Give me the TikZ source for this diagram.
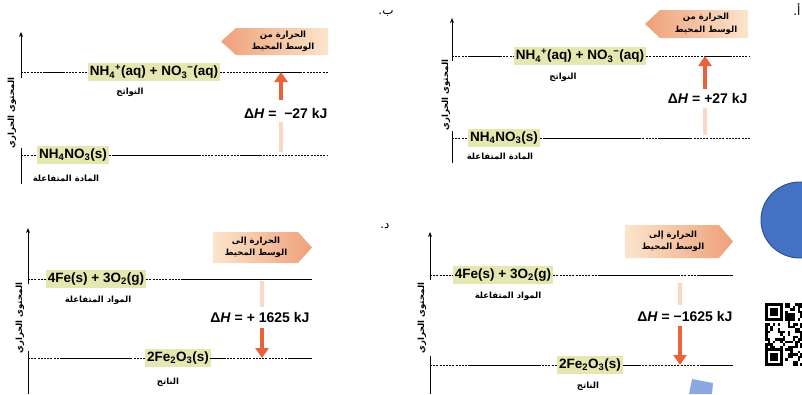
\documentclass[tikz,border=0pt]{standalone}
\usepackage{fontspec}
\setmainfont{Liberation Sans}
\newfontfamily\arabicfont[Script=Arabic]{DejaVu Sans}
\TeXXeTstate=1
\usetikzlibrary{arrows.meta}
\definecolor{boxfill}{HTML}{E4E8B0}
\definecolor{arrowred}{HTML}{E8623C}
\definecolor{arrowfade}{HTML}{F9D8C6}
\definecolor{heatdark}{HTML}{EFA07A}
\definecolor{heatlight}{HTML}{FBE5CC}
\definecolor{blueshape}{HTML}{4472C4}
\definecolor{blueedge}{HTML}{2F528F}
\definecolor{lightblue}{HTML}{8AA8E2}
\newcommand{\ar}[1]{{\arabicfont\bfseries\beginR #1\endR}}
\newcommand{\sbs}[1]{\textsubscript{#1}}
\newcommand{\sps}[1]{\textsuperscript{#1}}
\tikzset{
  formula/.style={fill=boxfill, font=\fontsize{13.5}{14}\selectfont\bfseries, inner xsep=2pt, inner ysep=2.5pt},
  arlabel/.style={font=\fontsize{8.5}{9}\selectfont},
  ylab/.style={rotate=90, font=\fontsize{8.5}{9}\selectfont},
  heattext/.style={align=center, font=\fontsize{8.5}{12.5}\selectfont},
  dhtext/.style={font=\fontsize{14}{14}\selectfont\bfseries},
  level/.style={draw=black, line width=0.75pt, dash pattern=on 2pt off 1.2pt},
  levelsolid/.style={draw=black, line width=0.85pt},
  axisline/.style={draw=black, line width=1pt},
  axisarrow/.style={axisline, -{Stealth[length=5pt,width=4pt]}},
  hotarrow/.style={draw=arrowred, line width=4.5pt, -{Triangle[width=13pt,length=10pt]}},
  fadeshaft/.style={draw=arrowfade, line width=4pt},
  panelmark/.style={font=\arabicfont\fontsize{12}{12}\selectfont},
}
\begin{document}
\begin{tikzpicture}[x=1pt,y=-1pt]
\useasboundingbox (0,0) rectangle (802,394);
\fill[white] (0,0) rectangle (802,394);

% ================= Panel top-left (ب) =================
\coordinate (a-axtop) at (21,32);
\coordinate (a-axmid) at (21,78);
\coordinate (a-axlo1) at (21,148);
\coordinate (a-axlo2) at (21,184);
\draw[axisarrow] (a-axmid) -- (a-axtop);
\draw[axisline] (a-axlo1) -- (a-axlo2);
\node[ylab] (a-ylab) at (12,113) {\ar{المحتوى الحراري}};
\coordinate (a-t1) at (21,72); \coordinate (a-t2) at (328,72);
\coordinate (a-b1) at (21,155); \coordinate (a-b2) at (328,155);
\node[formula] (a-prod) at (154,72) {NH\sbs{4}\sps{+}(aq) + NO\sbs{3}\sps{−}(aq)};
\node[formula] (a-reac) at (73,155) {NH\sbs{4}NO\sbs{3}(s)};
\draw[level] (a-t1) -- (a-prod.west);
\draw[level] (a-prod.east) -- (a-t2);
\draw[level] (a-b1) -- (a-reac.west);
\draw[level] (a-reac.east) -- (a-b2);
\draw[levelsolid] (45,72) -- (65,72);
\draw[levelsolid] (268,72) -- (300,72);
\draw[levelsolid] (112,155) -- (200,155);
\draw[levelsolid] (240,155) -- (262,155);
\node[arlabel] (a-prodlab) at (130,92) {\ar{النواتج}};
\node[arlabel] (a-reaclab) at (66,178) {\ar{المادة المتفاعلة}};
\shade[left color=heatdark, right color=heatlight] (221,41.5) -- (236,28) -- (328,28) -- (328,55) -- (236,55) -- cycle;
\node[heattext] (a-heat) at (283,41.5) {\ar{الحرارة من}\\\ar{الوسط المحيط}};
\coordinate (a-f1) at (281,152); \coordinate (a-f2) at (281,122);
\coordinate (a-h1) at (281,100); \coordinate (a-h2) at (281,72);
\draw[fadeshaft] (a-f1) -- (a-f2);
\draw[hotarrow] (a-h1) -- (a-h2);
\node[dhtext, anchor=east] (a-dh) at (331,113) {Δ\textit{H} =\ \ −27 kJ};
\node[panelmark] (a-mark) at (386,14) {ب.};

% ================= Panel top-right (أ) =================
\coordinate (b-axtop) at (452,18);
\coordinate (b-axmid) at (452,61);
\coordinate (b-axlo1) at (452,131);
\coordinate (b-axlo2) at (452,163);
\draw[axisarrow] (b-axmid) -- (b-axtop);
\draw[axisline] (b-axlo1) -- (b-axlo2);
\node[ylab] (b-ylab) at (446,95) {\ar{المحتوى الحراري}};
\coordinate (b-t1) at (452,56); \coordinate (b-t2) at (750,56);
\coordinate (b-b1) at (452,138); \coordinate (b-b2) at (750,138);
\node[formula] (b-prod) at (580,56) {NH\sbs{4}\sps{+}(aq) + NO\sbs{3}\sps{−}(aq)};
\node[formula] (b-reac) at (504,138) {NH\sbs{4}NO\sbs{3}(s)};
\draw[level] (b-t1) -- (b-prod.west);
\draw[level] (b-prod.east) -- (b-t2);
\draw[level] (b-b1) -- (b-reac.west);
\draw[level] (b-reac.east) -- (b-b2);
\draw[levelsolid] (470,56) -- (500,56);
\draw[levelsolid] (705,56) -- (732,56);
\draw[levelsolid] (545,138) -- (640,138);
\draw[levelsolid] (660,138) -- (690,138);
\node[arlabel] (b-prodlab) at (563,77) {\ar{النواتج}};
\node[arlabel] (b-reaclab) at (500,156) {\ar{المادة المتفاعلة}};
\shade[left color=heatdark, right color=heatlight] (645,24) -- (660,10) -- (748,10) -- (748,38) -- (660,38) -- cycle;
\node[heattext] (b-heat) at (706,24) {\ar{الحرارة من}\\\ar{الوسط المحيط}};
\coordinate (b-f1) at (705,135); \coordinate (b-f2) at (705,108);
\coordinate (b-h1) at (705,89); \coordinate (b-h2) at (705,56);
\draw[fadeshaft] (b-f1) -- (b-f2);
\draw[hotarrow] (b-h1) -- (b-h2);
\node[dhtext, anchor=east] (b-dh) at (751,98) {Δ\textit{H} = +27 kJ};
\node[panelmark, anchor=east] (b-mark) at (804,10) {أ.};

% ================= Panel bottom-left (د) =================
\coordinate (c-axtop) at (28,228);
\coordinate (c-axmid) at (28,284);
\coordinate (c-axlo1) at (28,351);
\coordinate (c-axlo2) at (28,394);
\draw[axisarrow] (c-axmid) -- (c-axtop);
\draw[axisline] (c-axlo1) -- (c-axlo2);
\node[ylab] (c-ylab) at (20,318) {\ar{المحتوى الحراري}};
\coordinate (c-t1) at (28,279); \coordinate (c-t2) at (312,279);
\coordinate (c-b1) at (28,358); \coordinate (c-b2) at (312,358);
\node[formula] (c-reac) at (96,279) {4Fe(s) + 3O\sbs{2}(g)};
\node[formula] (c-prod) at (178,358) {2Fe\sbs{2}O\sbs{3}(s)};
\draw[level] (c-t1) -- (c-reac.west);
\draw[level] (c-reac.east) -- (c-t2);
\draw[level] (c-b1) -- (c-prod.west);
\draw[level] (c-prod.east) -- (c-b2);
\draw[levelsolid] (182,279) -- (312,279);
\draw[levelsolid] (60,358) -- (130,358);
\draw[levelsolid] (210,358) -- (226,358);
\draw[levelsolid] (290,358) -- (312,358);
\node[arlabel] (c-reaclab) at (98,300) {\ar{المواد المتفاعلة}};
\node[arlabel] (c-prodlab) at (168,382) {\ar{الناتج}};
\shade[left color=heatlight, right color=heatdark] (213,232) -- (298,232) -- (312,247.5) -- (298,263) -- (213,263) -- cycle;
\node[heattext] (c-heat) at (256,247.5) {\ar{الحرارة إلى}\\\ar{الوسط المحيط}};
\coordinate (c-f1) at (262,281); \coordinate (c-f2) at (262,307);
\coordinate (c-h1) at (262,328); \coordinate (c-h2) at (262,358);
\draw[fadeshaft] (c-f1) -- (c-f2);
\draw[hotarrow] (c-h1) -- (c-h2);
\node[dhtext, anchor=east] (c-dh) at (313,317) {Δ\textit{H} = + 1625 kJ};
\node[panelmark] (c-mark) at (385,226) {د.};

% ================= Panel bottom-right =================
\coordinate (d-axtop) at (430,232);
\coordinate (d-axmid) at (430,280);
\coordinate (d-axlo1) at (430,356);
\coordinate (d-axlo2) at (430,394);
\draw[axisarrow] (d-axmid) -- (d-axtop);
\draw[axisline] (d-axlo1) -- (d-axlo2);
\node[ylab] (d-ylab) at (422,318) {\ar{المحتوى الحراري}};
\coordinate (d-t1) at (430,275); \coordinate (d-t2) at (733,275);
\coordinate (d-b1) at (430,365); \coordinate (d-b2) at (733,365);
\node[formula] (d-reac) at (503,275) {4Fe(s) + 3O\sbs{2}(g)};
\node[formula] (d-prod) at (590,365) {2Fe\sbs{2}O\sbs{3}(s)};
\draw[level] (d-t1) -- (d-reac.west);
\draw[level] (d-reac.east) -- (d-t2);
\draw[level] (d-b1) -- (d-prod.west);
\draw[level] (d-prod.east) -- (d-b2);
\draw[levelsolid] (600,275) -- (680,275);
\draw[levelsolid] (698,275) -- (733,275);
\draw[levelsolid] (470,365) -- (540,365);
\draw[levelsolid] (625,365) -- (640,365);
\draw[levelsolid] (700,365) -- (733,365);
\node[arlabel] (d-reaclab) at (508,296) {\ar{المواد المتفاعلة}};
\node[arlabel] (d-prodlab) at (588,386) {\ar{الناتج}};
\shade[left color=heatlight, right color=heatdark] (625,225) -- (719,225) -- (733,241.5) -- (719,258) -- (625,258) -- cycle;
\node[heattext] (d-heat) at (673,241.5) {\ar{الحرارة إلى}\\\ar{الوسط المحيط}};
\coordinate (d-f1) at (680,283); \coordinate (d-f2) at (680,305);
\coordinate (d-h1) at (680,326); \coordinate (d-h2) at (680,365);
\draw[fadeshaft] (d-f1) -- (d-f2);
\draw[hotarrow] (d-h1) -- (d-h2);
\node[dhtext, anchor=east] (d-dh) at (736,316) {Δ\textit{H} = −1625 kJ};

% ================= Decorations on the right =================
\draw[fill=blueshape, draw=blueedge, line width=1pt] (800,220) ellipse [x radius=39, y radius=38];
\fill[lightblue] (692,379) -- (713,383) -- (712,394) -- (689,394) -- cycle;
% QR code
\pgfmathsetseed{4242}
\foreach \i in {0,...,15}{
  \foreach \j in {0,...,24}{
    \pgfmathtruncatemacro\q{rnd<0.5}
    \ifnum\q=1 \fill[black] (765+\i*2.5,303+\j*2.5) rectangle ++(2.5,2.5);\fi
  }
}
\foreach \yy in {303,348}{
  \fill[white] (765,\yy-0.1) rectangle ++(20,20.1);
  \fill[black] (765,\yy) rectangle ++(17.5,17.5);
  \fill[white] (767.5,\yy+2.5) rectangle ++(12.5,12.5);
  \fill[black] (770,\yy+5) rectangle ++(7.5,7.5);
}
\end{tikzpicture}
\end{document}
